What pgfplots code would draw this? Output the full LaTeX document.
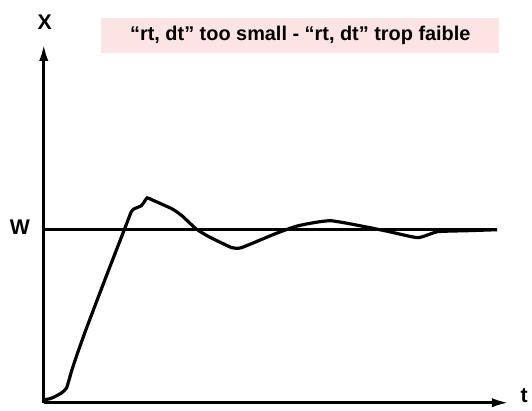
\documentclass[border=0pt]{standalone}
\usepackage{pgfplots}
\pgfplotsset{compat=1.18}
\usetikzlibrary{arrows.meta}
\usepackage{fontspec}
\setmainfont{Liberation Sans}
\definecolor{boxpink}{RGB}{253,228,228}
\begin{document}
\begin{tikzpicture}
\begin{axis}[
    scale only axis,
    width=351pt, height=270.75pt,
    xmin=0, xmax=468, ymin=0, ymax=361,
    axis lines=none,
    xtick=\empty, ytick=\empty,
    clip=false,
]
\path (axis cs:-44,-8) rectangle (axis cs:488,405);
% axes with arrow heads
\addplot[line width=2.4pt, black, -{Latex[length=13pt,width=7pt]}] coordinates {(0,0) (468,0)};
\addplot[line width=2.4pt, black, -{Latex[length=13pt,width=7pt]}] coordinates {(0,0) (0,361)};
% setpoint W
\addplot[line width=2.4pt, black] coordinates {(0,174) (456,174)};
% response
\addplot[line width=2.4pt, black, smooth, tension=0.3] coordinates {
    (0,3) (6,4) (11,6) (18,10) (23,15) (28,32) (34,50) (43,75)
    (62,125) (81,174) (88,192) (91,195) (98,198) (101,202) (104,206)
    (109,204) (129,195) (139,188) (153,175) (166,167) (189,156) (199,156)
    (233,170) (256,178) (289,183) (343,173) (376,166) (396,172) (426,173) (456,174)
};
\node[fill=boxpink, minimum width=300pt, minimum height=26pt, inner sep=0pt,
      font=\fontsize{15}{17}\selectfont\bfseries] at (axis cs:258,369.5)
      {“rt, dt” too small - “rt, dt” trop faible};
\node[font=\fontsize{16}{18}\selectfont\bfseries] at (axis cs:1,383) {X};
\node[font=\fontsize{16}{18}\selectfont\bfseries] at (axis cs:-24,177) {W};
\node[font=\fontsize{16}{18}\selectfont\bfseries] at (axis cs:483,7) {t};
\end{axis}
\end{tikzpicture}
\end{document}
